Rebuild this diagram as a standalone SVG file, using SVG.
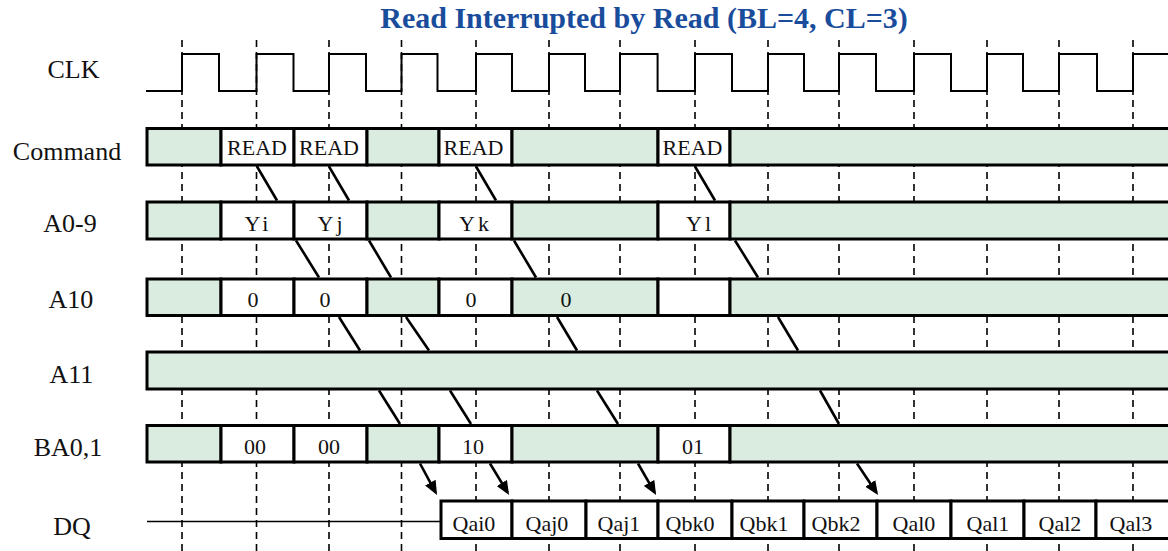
<svg xmlns="http://www.w3.org/2000/svg" width="1168" height="551" viewBox="0 0 1168 551">
<defs>
<style>
.lbl{font-family:"Liberation Serif","Times New Roman",serif;font-size:26px;fill:#111;text-anchor:middle}
.t{font-family:"Liberation Serif","Times New Roman",serif;font-size:22px;fill:#111;text-anchor:middle}
.ty{letter-spacing:3px}
.g{fill:#d9ecdf;stroke:#000;stroke-width:3}
.w{fill:#fff;stroke:#000;stroke-width:3}
.grid line{stroke:#000;stroke-width:1.6;stroke-dasharray:7 5}
.conn line{stroke:#000;stroke-width:2.6}
.title{font-family:"Liberation Serif","Times New Roman",serif;font-size:30px;font-weight:bold;fill:#1a4c9c;text-anchor:middle}
</style>
<marker id="ah" viewBox="0 0 14 12" refX="11" refY="6" markerWidth="14" markerHeight="12" markerUnits="userSpaceOnUse" orient="auto">
<path d="M0,0 L14,6 L0,12 z" fill="#000"/>
</marker>
</defs>
<rect width="1168" height="551" fill="#fff"/>
<text class="title" x="644" y="28">Read Interrupted by Read (BL=4, CL=3)</text>

<g id="grid" class="grid">
<line x1="182" y1="40" x2="182" y2="551"/>
<line x1="256.5" y1="40" x2="256.5" y2="551"/>
<line x1="329" y1="40" x2="329" y2="551"/>
<line x1="401.5" y1="40" x2="401.5" y2="551"/>
<line x1="476" y1="40" x2="476" y2="551"/>
<line x1="549" y1="40" x2="549" y2="551"/>
<line x1="620" y1="40" x2="620" y2="551"/>
<line x1="695" y1="40" x2="695" y2="551"/>
<line x1="768" y1="40" x2="768" y2="551"/>
<line x1="839" y1="40" x2="839" y2="551"/>
<line x1="914" y1="40" x2="914" y2="551"/>
<line x1="987" y1="40" x2="987" y2="551"/>
<line x1="1059" y1="40" x2="1059" y2="551"/>
<line x1="1133" y1="40" x2="1133" y2="551"/>
</g>

<g id="clk">
<text class="lbl" x="73.5" y="78">CLK</text>
<path d="M146,91 H182 V54 H219 V91 H256.5 V54 H293.5 V91 H329 V54 H366 V91 H401.5 V54 H437.5 V91 H476 V54 H512 V91 H549 V54 H585 V91 H620 V54 H657.6 V91 H695 V54 H732 V91 H768 V54 H804 V91 H839 V54 H876 V91 H914 V54 H951 V91 H987 V54 H1023 V91 H1059 V54 H1097 V91 H1133 V54 H1172" fill="none" stroke="#000" stroke-width="2"/>
</g>

<g id="command">
<text class="lbl" x="67" y="160">Command</text>
<rect class="g" x="147" y="128.5" width="74" height="36.5"/>
<rect class="w" x="221" y="128.5" width="73" height="36.5"/>
<rect class="w" x="294" y="128.5" width="73" height="36.5"/>
<rect class="g" x="367" y="128.5" width="72" height="36.5"/>
<rect class="w" x="439" y="128.5" width="73" height="36.5"/>
<rect class="g" x="512" y="128.5" width="146" height="36.5"/>
<rect class="w" x="658" y="128.5" width="72" height="36.5"/>
<rect class="g" x="730" y="128.5" width="442" height="36.5"/>
<text class="t" x="257" y="155">READ</text>
<text class="t" x="329" y="155">READ</text>
<text class="t" x="473.5" y="155">READ</text>
<text class="t" x="692.5" y="155">READ</text>
</g>

<g id="a0-9">
<text class="lbl" x="70" y="231.5">A0-9</text>
<rect class="g" x="147" y="202" width="74" height="37"/>
<rect class="w" x="221" y="202" width="73" height="37"/>
<rect class="w" x="294" y="202" width="73" height="37"/>
<rect class="g" x="367" y="202" width="72" height="37"/>
<rect class="w" x="439" y="202" width="73" height="37"/>
<rect class="g" x="512" y="202" width="146" height="37"/>
<rect class="w" x="658" y="202" width="72" height="37"/>
<rect class="g" x="730" y="202" width="442" height="37"/>
<text class="t ty" x="258" y="231">Yi</text>
<text class="t ty" x="331.5" y="231">Yj</text>
<text class="t ty" x="475.5" y="231">Yk</text>
<text class="t ty" x="700" y="231">Yl</text>
</g>

<g id="a10">
<text class="lbl" x="70.8" y="308">A10</text>
<rect class="g" x="147" y="279" width="74" height="36.5"/>
<rect class="w" x="221" y="279" width="73" height="36.5"/>
<rect class="w" x="294" y="279" width="73" height="36.5"/>
<rect class="g" x="367" y="279" width="72" height="36.5"/>
<rect class="w" x="439" y="279" width="73" height="36.5"/>
<rect class="g" x="512" y="279" width="146" height="36.5"/>
<rect class="w" x="658" y="279" width="72" height="36.5"/>
<rect class="g" x="730" y="279" width="442" height="36.5"/>
<text class="t" x="253" y="306.5">0</text>
<text class="t" x="325" y="306.5">0</text>
<text class="t" x="471" y="306.5">0</text>
<text class="t" x="566" y="306.5">0</text>
</g>

<g id="a11">
<text class="lbl" x="71.4" y="382.5">A11</text>
<rect class="g" x="147" y="352" width="1025" height="37"/>
</g>

<g id="ba01">
<text class="lbl" x="68" y="456">BA0,1</text>
<rect class="g" x="147" y="425.5" width="74" height="36.5"/>
<rect class="w" x="221" y="425.5" width="73" height="36.5"/>
<rect class="w" x="294" y="425.5" width="73" height="36.5"/>
<rect class="g" x="367" y="425.5" width="72" height="36.5"/>
<rect class="w" x="439" y="425.5" width="73" height="36.5"/>
<rect class="g" x="512" y="425.5" width="146" height="36.5"/>
<rect class="w" x="658" y="425.5" width="72" height="36.5"/>
<rect class="g" x="730" y="425.5" width="442" height="36.5"/>
<text class="t" x="255" y="453.5">00</text>
<text class="t" x="329" y="453.5">00</text>
<text class="t" x="473" y="453.5">10</text>
<text class="t" x="693" y="453.5">01</text>
</g>

<g id="dq">
<text class="lbl" x="72" y="535">DQ</text>
<line x1="147" y1="521.5" x2="441" y2="521.5" stroke="#000" stroke-width="1.6"/>
<rect class="w" x="441" y="501" width="71" height="37.5"/>
<rect class="w" x="512" y="501" width="74" height="37.5"/>
<rect class="w" x="586" y="501" width="72" height="37.5"/>
<rect class="w" x="658" y="501" width="74" height="37.5"/>
<rect class="w" x="732" y="501" width="72" height="37.5"/>
<rect class="w" x="804" y="501" width="73" height="37.5"/>
<rect class="w" x="877" y="501" width="74" height="37.5"/>
<rect class="w" x="951" y="501" width="73" height="37.5"/>
<rect class="w" x="1024" y="501" width="72" height="37.5"/>
<rect class="w" x="1096" y="501" width="76" height="37.5"/>
<text class="t" x="474" y="531">Qai0</text>
<text class="t" x="547" y="531">Qaj0</text>
<text class="t" x="619" y="531">Qaj1</text>
<text class="t" x="690" y="531">Qbk0</text>
<text class="t" x="764" y="531">Qbk1</text>
<text class="t" x="836" y="531">Qbk2</text>
<text class="t" x="914" y="531">Qal0</text>
<text class="t" x="988" y="531">Qal1</text>
<text class="t" x="1060" y="531">Qal2</text>
<text class="t" x="1131" y="531">Qal3</text>
</g>

<g id="connectors" class="conn">
<line x1="257" y1="166.5" x2="277" y2="200.5"/>
<line x1="329" y1="166.5" x2="349" y2="200.5"/>
<line x1="476" y1="166.5" x2="496" y2="200.5"/>
<line x1="695" y1="166.5" x2="715" y2="200.5"/>
<line x1="296" y1="240.5" x2="319" y2="277.5"/>
<line x1="369" y1="240.5" x2="391" y2="277.5"/>
<line x1="514" y1="240.5" x2="536" y2="277.5"/>
<line x1="735" y1="240.5" x2="758" y2="277.5"/>
<line x1="339" y1="317" x2="360" y2="350.5"/>
<line x1="406" y1="317" x2="429" y2="350.5"/>
<line x1="557" y1="317" x2="577" y2="350.5"/>
<line x1="778" y1="317" x2="798" y2="350.5"/>
<line x1="379" y1="390.5" x2="400" y2="424"/>
<line x1="450" y1="390.5" x2="471" y2="424"/>
<line x1="597" y1="390.5" x2="618" y2="424"/>
<line x1="820" y1="390.5" x2="839" y2="424"/>
<line x1="420" y1="463.5" x2="435.6" y2="492.3" marker-end="url(#ah)"/>
<line x1="490" y1="463.5" x2="507.5" y2="492.4" marker-end="url(#ah)"/>
<line x1="638" y1="463.5" x2="654.6" y2="492.4" marker-end="url(#ah)"/>
<line x1="857" y1="463.5" x2="876.4" y2="492.5" marker-end="url(#ah)"/>
</g>
</svg>
